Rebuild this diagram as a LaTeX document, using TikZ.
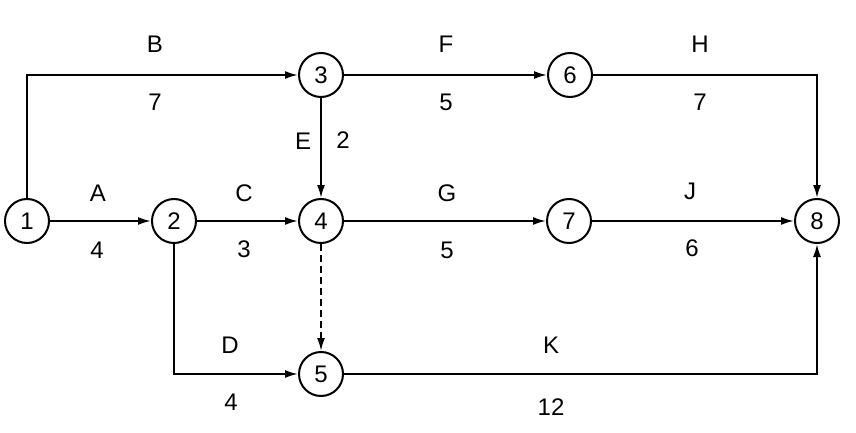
\documentclass[tikz,border=0pt]{standalone}
\usepackage{fontspec}
\setmainfont{Liberation Sans}
\usetikzlibrary{arrows.meta}
\begin{document}
\begin{tikzpicture}[x=1pt,y=-1pt,
  ev/.style={circle,draw,line width=2pt,minimum size=44pt,inner sep=0pt,font=\fontsize{24}{27}\selectfont},
  lbl/.style={inner sep=0pt,font=\fontsize{24}{27}\selectfont},
  arr/.style={line width=2pt,-{Latex[length=13pt,width=8pt]}},
  dum/.style={arr,dash pattern=on 7pt off 4pt}]
\useasboundingbox (0,0) rectangle (856,433);
\node[ev] (n1) at (27,221) {1};
\node[ev] (n2) at (174,221) {2};
\node[ev] (n3) at (321,75) {3};
\node[ev] (n4) at (321,221) {4};
\node[ev] (n5) at (321,374) {5};
\node[ev] (n6) at (570,75) {6};
\node[ev] (n7) at (569,221) {7};
\node[ev] (n8) at (817,221) {8};
\draw[arr] (n1) -- (n2);
\draw[arr] (n1.north) |- (n3);
\draw[arr] (n2) -- (n4);
\draw[arr] (n2.south) |- (n5);
\draw[arr] (n3) -- (n4);
\draw[arr] (n3) -- (n6);
\draw[arr] (n4) -- (n7);
\draw[dum] (n4) -- (n5);
\draw[arr] (n6) -| (n8);
\draw[arr] (n7) -- (n8);
\draw[arr] (n5) -| (n8);
\node[lbl] (lA) at (98,193) {A};
\node[lbl] (lA2) at (97,250) {4};
\node[lbl] (lB) at (155,44) {B};
\node[lbl] (lB2) at (155,102) {7};
\node[lbl] (lC) at (244,193) {C};
\node[lbl] (lC2) at (244,249) {3};
\node[lbl] (lD) at (230,345) {D};
\node[lbl] (lD2) at (231,402) {4};
\node[lbl] (lE) at (303,141) {E};
\node[lbl] (lE2) at (343,140) {2};
\node[lbl] (lF) at (446,44) {F};
\node[lbl] (lF2) at (446,102) {5};
\node[lbl] (lG) at (447,193) {G};
\node[lbl] (lG2) at (447,250) {5};
\node[lbl] (lH) at (700,44) {H};
\node[lbl] (lH2) at (700,102) {7};
\node[lbl] (lJ) at (690,191) {J};
\node[lbl] (lJ2) at (692,248) {6};
\node[lbl] (lK) at (551,345) {K};
\node[lbl] (lK2) at (551,407) {12};
\end{tikzpicture}
\end{document}
